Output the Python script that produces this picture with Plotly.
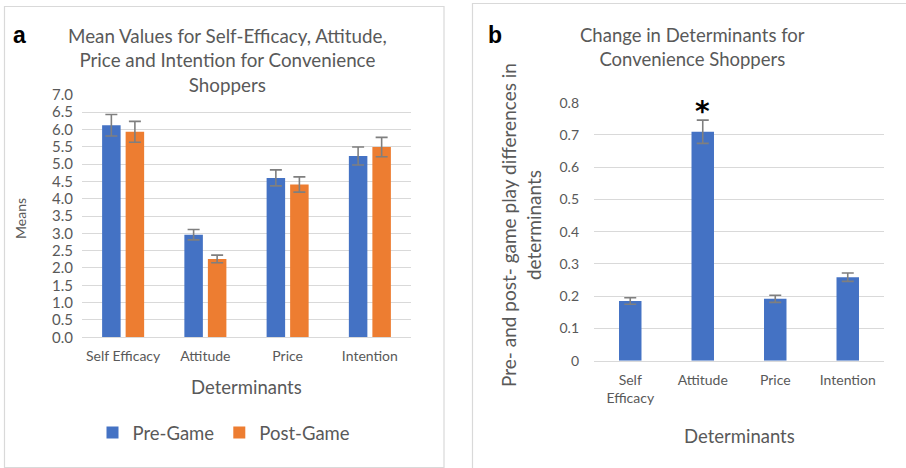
import plotly.graph_objects as go

W, H = 906, 468

# Panel a: mean scores before and after the game
categories_a = ["Self Efficacy", "Attitude", "Price", "Intention"]
pre_game = [6.12, 2.96, 4.60, 5.23]
pre_game_err = [0.31, 0.15, 0.23, 0.26]
post_game = [5.93, 2.26, 4.41, 5.49]
post_game_err = [0.30, 0.11, 0.22, 0.28]
tickvals_a = [0.0, 0.5, 1.0, 1.5, 2.0, 2.5, 3.0, 3.5, 4.0, 4.5, 5.0, 5.5, 6.0, 6.5, 7.0]
ticktext_a = ["0.0", "0.5", "1.0", "1.5", "2.0", "2.5", "3.0", "3.5",
              "4.0", "4.5", "5.0", "5.5", "6.0", "6.5", "7.0"]

# Panel b: pre/post differences
categories_b = ["Self<br>Efficacy", "Attitude", "Price", "Intention"]
change = [0.185, 0.710, 0.192, 0.259]
change_err = [0.010, 0.036, 0.011, 0.013]
tickvals_b = [0.0, 0.1, 0.2, 0.3, 0.4, 0.5, 0.6, 0.7, 0.8]
ticktext_b = ["0", "0.1", "0.2", "0.3", "0.4", "0.5", "0.6", "0.7", "0.8"]

BLUE = "#4472C4"
ORANGE = "#ED7D31"
GREY_TXT = "#595959"
GRID = "#d9d9d9"
ERR = "#7f7f7f"
FONT = "Lato"


def px(x):
    return x / W


def py(y):
    return 1 - y / H


err_style = dict(type="data", color=ERR, thickness=1.6, width=6, visible=True)

fig = go.Figure()
fig.add_trace(go.Bar(
    x=categories_a, y=pre_game, name="Pre-Game",
    marker=dict(color=BLUE, line=dict(width=0)),
    width=0.225, offset=-0.2555,
    error_y=dict(array=pre_game_err, **err_style),
    xaxis="x", yaxis="y",
))
fig.add_trace(go.Bar(
    x=categories_a, y=post_game, name="Post-Game",
    marker=dict(color=ORANGE, line=dict(width=0)),
    width=0.225, offset=0.0305,
    error_y=dict(array=post_game_err, **err_style),
    xaxis="x", yaxis="y",
))
fig.add_trace(go.Bar(
    x=categories_b, y=change, name="Change", showlegend=False,
    marker=dict(color=BLUE, line=dict(width=0)),
    width=0.31, offset=-0.155,
    error_y=dict(array=change_err, **err_style),
    xaxis="x2", yaxis="y2",
))

tick_font = dict(family=FONT, size=14, color=GREY_TXT)
title_font = dict(family=FONT, size=18.5, color=GREY_TXT)

fig.update_layout(
    width=W, height=H,
    margin=dict(l=0, r=0, t=0, b=0, pad=0, autoexpand=False),
    paper_bgcolor="white", plot_bgcolor="white",
    barmode="group",
    showlegend=True,
    legend=dict(orientation="h", x=px(224), xanchor="center",
                y=py(433), yanchor="middle",
                font=dict(family=FONT, size=18.5, color=GREY_TXT),
                bgcolor="rgba(0,0,0,0)"),
    xaxis=dict(domain=[px(82), px(411)], anchor="y", automargin=False,
               showline=True, linecolor=GRID, linewidth=1,
               showgrid=False, ticks="", tickfont=tick_font,
               ticklabelstandoff=6, fixedrange=True),
    yaxis=dict(domain=[py(337.3), py(94.7)], anchor="x", automargin=False,
               range=[0, 7], tickvals=tickvals_a, ticktext=ticktext_a,
               showgrid=True, gridcolor=GRID, gridwidth=1,
               zeroline=False, showline=False, ticks="",
               tickfont=dict(family=FONT, size=15, color=GREY_TXT),
               ticklabelstandoff=8, fixedrange=True),
    xaxis2=dict(domain=[px(594), px(884)], anchor="y2", automargin=False,
                showline=True, linecolor=GRID, linewidth=1,
                showgrid=False, ticks="", tickfont=tick_font,
                ticklabelstandoff=6, fixedrange=True),
    yaxis2=dict(domain=[py(360.7), py(102.7)], anchor="x2", automargin=False,
                range=[0, 0.8], tickvals=tickvals_b, ticktext=ticktext_b,
                showgrid=True, gridcolor=GRID, gridwidth=1,
                zeroline=False, showline=False, ticks="",
                tickfont=tick_font, ticklabelstandoff=14, fixedrange=True),
)

annotations = [
    dict(text="Mean Values for Self-Efficacy, Attitude,<br>Price and Intention for Convenience<br>Shoppers",
         x=px(227), y=py(60), font=dict(family=FONT, size=18.8, color=GREY_TXT)),
    dict(text="Change in Determinants for<br>Convenience Shoppers",
         x=px(692), y=py(47.5), font=title_font),
    dict(text="Determinants", x=px(246), y=py(387), font=title_font),
    dict(text="Determinants", x=px(739), y=py(436), font=title_font),
    dict(text="Means", x=px(20), y=py(219), textangle=-90,
         font=dict(family=FONT, size=14, color=GREY_TXT)),
    dict(text="Pre- and post- game play differences in<br>determinants",
         x=px(521), y=py(225), textangle=-90,
         font=dict(family=FONT, size=19, color=GREY_TXT)),
    dict(text="<b>a</b>", x=px(19), y=py(35),
         font=dict(family="Liberation Sans", size=23, color="black")),
    dict(text="<b>b</b>", x=px(495), y=py(35.5),
         font=dict(family="Liberation Sans", size=23, color="black")),
]
for a in annotations:
    a.update(xref="paper", yref="paper", showarrow=False,
             xanchor="center", yanchor="middle")

# significance marker above the Attitude difference bar
annotations.append(dict(
    text="<b>*</b>", xref="x2", yref="y2", x=categories_b[1],
    y=change[1] + change_err[1], yanchor="bottom", yshift=-10,
    showarrow=False, font=dict(family="DejaVu Sans", size=28, color="black"),
))
fig.update_layout(annotations=annotations)

fig.update_layout(shapes=[
    dict(type="rect", xref="paper", yref="paper",
         x0=px(4.5), x1=px(444), y0=py(467.5), y1=py(6.5),
         line=dict(color=GRID, width=1.2), fillcolor="rgba(0,0,0,0)", layer="below"),
    dict(type="rect", xref="paper", yref="paper",
         x0=px(472.5), x1=px(912), y0=py(474), y1=py(3.5),
         line=dict(color=GRID, width=1.2), fillcolor="rgba(0,0,0,0)", layer="below"),
])

fig.write_html("out.html")
